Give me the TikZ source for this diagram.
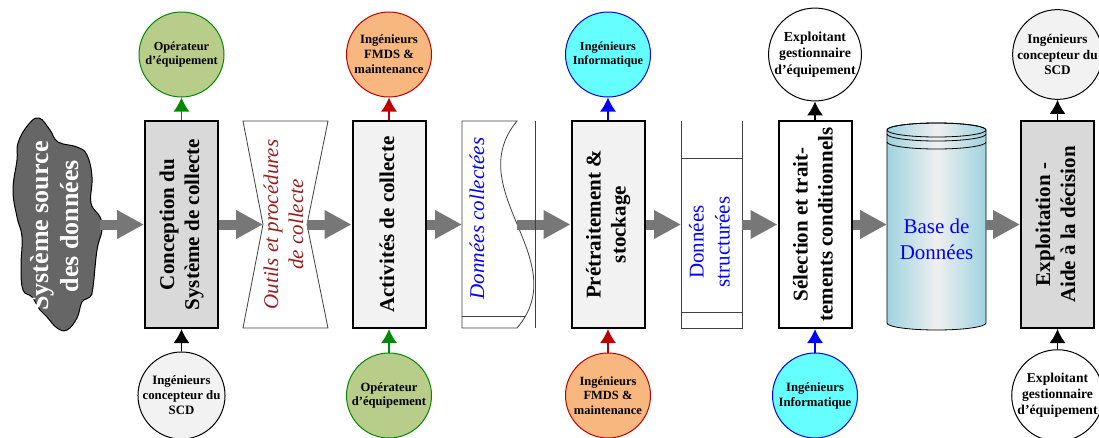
\documentclass[tikz,border=0pt]{standalone}
\usepackage{fontspec}
\setmainfont{Liberation Serif}
\usepackage{graphicx}
\usepackage{xcolor}
\usepackage{tikz}
\usetikzlibrary{arrows.meta,calc}

\definecolor{flowgray}{HTML}{777777}
\definecolor{cloudgray}{HTML}{666666}
\definecolor{boxgray}{HTML}{D9D9D9}
\definecolor{boxlight}{HTML}{F2F2F2}
\definecolor{opgreen}{HTML}{B9CD8A}
\definecolor{opline}{HTML}{008A00}
\definecolor{fmdsorange}{HTML}{F8B77E}
\definecolor{fmdsline}{HTML}{C00000}
\definecolor{infocyan}{HTML}{66FFFF}
\definecolor{dbblue}{HTML}{9ED3DF}
\definecolor{outilsred}{HTML}{9B1C1C}

\newcommand{\vtext}[1]{\rotatebox{90}{\begin{tabular}{@{}c@{}}#1\end{tabular}}}
\newcommand{\actorfont}[1]{\fontsize{#1}{\dimexpr #1pt*118/100\relax}\selectfont\bfseries}

\begin{document}
\begin{tikzpicture}[x=1pt,y=-1pt,
		box/.style={draw,line width=2pt,minimum width=73pt,minimum height=207pt,inner sep=0pt,font=\fontsize{21}{25}\selectfont\bfseries},
		actor/.style={circle,draw,line width=1pt,minimum size=85pt,inner sep=0pt,align=center},
		flow/.style={draw=flowgray,line width=10pt,-{Triangle[length=27pt,width=27pt]}},
		link/.style={line width=1.4pt,-{Latex[length=14pt,width=16pt]}},
		store/.style={inner sep=0pt,font=\fontsize{21}{26}\selectfont},
		thinline/.style={line width=0.8pt,draw=black!75}]
		\useasboundingbox (0,0) rectangle (1099,437);
		\coordinate (uprow) at (0,54.5);
		\coordinate (downrow) at (0,395.5);

		% Source cloud
		\draw[fill=cloudgray,line width=1pt] plot[smooth cycle,tension=0.7] coordinates {(39,118) (50,130) (58,142) (77,147) (87,155) (92,177) (91,203) (100,217) (102,230) (97,250) (93,287) (90,297) (82,302) (77,318) (67,330) (57,328) (47,317) (40,310) (32,297) (23,290) (21,267) (22,237) (17,217) (13,190) (17,160) (18,143) (28,125)};
		\node[text=white,font=\fontsize{26}{30}\selectfont\bfseries] (source) at (57.5,226) {\vtext{Système source\\des données}};
		\coordinate (sourceout) at (100,224.5);

		% Process boxes
		\node[box,fill=boxgray] (conc) at (181.5,224.5) {\vtext{Conception du\\Système de collecte}};
		\node[box,fill=boxlight] (activ) at (389,224.5) {\vtext{Activités de collecte}};
		\node[box,fill=boxlight] (pretr) at (608,224.5) {\vtext{Prétraitement \&\\stockage}};
		\node[box,fill=white] (select) at (815,224.5) {\vtext{Sélection et trait-\\tements conditionnels}};
		\node[box,fill=boxgray] (exploit) at (1057.5,224.5) {\vtext{Exploitation -\\Aide à la décision}};

		% Tools (hourglass)
		\draw[thinline,fill=white] (243,121) -- (328,121) -- (307,224.5) -- (328,328) -- (243,328) -- (263,224.5) -- cycle;
		\coordinate (outilsin) at (263,224.5);
		\coordinate (outilsout) at (307,224.5);
		\node[store,text=outilsred,font=\fontsize{21}{25}\selectfont\itshape] (outils) at (285.5,224.5) {\vtext{Outils et procédures\\de collecte}};

		% Collected data (document)
		\draw[thinline,fill=white] (462,121) -- (517,121) .. controls (460,190) and (575,260) .. (517,328) -- (462,328) -- cycle;
		\draw[thinline] (462,316) -- (525,316);
		\coordinate (collectin) at (462,224.5);
		\coordinate (collectout) at (517,224.5);
		\node[store,text=blue,font=\fontsize{21}{25}\selectfont\itshape] (collect) at (479,218.5) {\vtext{Données collectées}};

		% Structured data
		\draw[thinline] (681,121) -- (681,328) -- (742,328) -- (742,121);
		\draw[thinline] (681,158) -- (742,158);
		\draw[thinline] (681,312) -- (742,312);
		\coordinate (structin) at (681,224.5);
		\coordinate (structout) at (742,224.5);
		\node[store,text=blue] (struct) at (711.5,242) {\vtext{Données\\structurées}};

		% Database cylinder
		\shadedraw[thinline,draw=black,left color=dbblue,right color=dbblue,middle color=gray!12] (887,130) -- (887,323) arc[start angle=180,end angle=360,x radius=49.5pt,y radius=7pt] -- (986,130) arc[start angle=0,end angle=180,x radius=49.5pt,y radius=7pt] -- cycle;
		\draw[thinline,draw=black] (936.5,130) ellipse[x radius=49.5pt,y radius=7pt];
		\draw[thinline,draw=black] (887,134) arc[start angle=180,end angle=360,x radius=49.5pt,y radius=7pt];
		\draw[thinline,draw=black] (887,142) arc[start angle=180,end angle=360,x radius=49.5pt,y radius=7pt];
		\coordinate (dbin) at (887,224.5);
		\coordinate (dbout) at (986,224.5);
		\node[store,text=blue,align=center] (db) at (936.5,239) {Base de\\Données};

		% Main flow
		\draw[flow] (sourceout) -- (conc.west);
		\draw[flow] (conc.east) -- (outilsin);
		\draw[flow] (outilsout) -- (activ.west);
		\draw[flow] (activ.east) -- (collectin);
		\draw[flow] (collectout) -- (pretr.west);
		\draw[flow] (pretr.east) -- (structin);
		\draw[flow] (structout) -- (select.west);
		\draw[flow] (select.east) -- (dbin);
		\draw[flow] (dbout) -- (exploit.west);
		\draw[thinline] (535,121) -- (535,328);

		% Actors above
		\foreach \b/\fc/\dc/\fs/\who in {conc/opgreen/opline/12.3/{Opérateur\\d'équipement},
			activ/fmdsorange/fmdsline/12.7/{Ingénieurs\\FMDS \&\\maintenance},
			pretr/infocyan/blue/12.3/{Ingénieurs\\Informatique},
			select/white/black/13.8/{Exploitant\\gestionnaire\\d'équipement},
			exploit/boxlight/black/13.2/{Ingénieurs\\concepteur du\\SCD}}
		{
			\node[actor,fill=\fc,draw=\dc,font=\actorfont{\fs}] (up-\b) at (\b |- uprow) {\who};
			\draw[link,draw=\dc] (\b.north) -- (up-\b.south);
		}

		% Actors below
		\foreach \b/\fc/\dc/\fs/\who in {conc/boxlight/black/12.8/{Ingénieurs\\concepteur du\\SCD},
			activ/opgreen/opline/12.6/{Opérateur\\d'équipement},
			pretr/fmdsorange/fmdsline/12.5/{Ingénieurs\\FMDS \&\\maintenance},
			select/infocyan/blue/12.7/{Ingénieurs\\Informatique},
			exploit/white/black/13.6/{Exploitant\\gestionnaire\\d'équipement}}
		{
			\node[actor,fill=\fc,draw=\dc,font=\actorfont{\fs}] (down-\b) at (\b |- downrow) {\who};
			\draw[link,draw=\dc] (down-\b.north) -- (\b.south);
		}

	\end{tikzpicture}
\end{document}
